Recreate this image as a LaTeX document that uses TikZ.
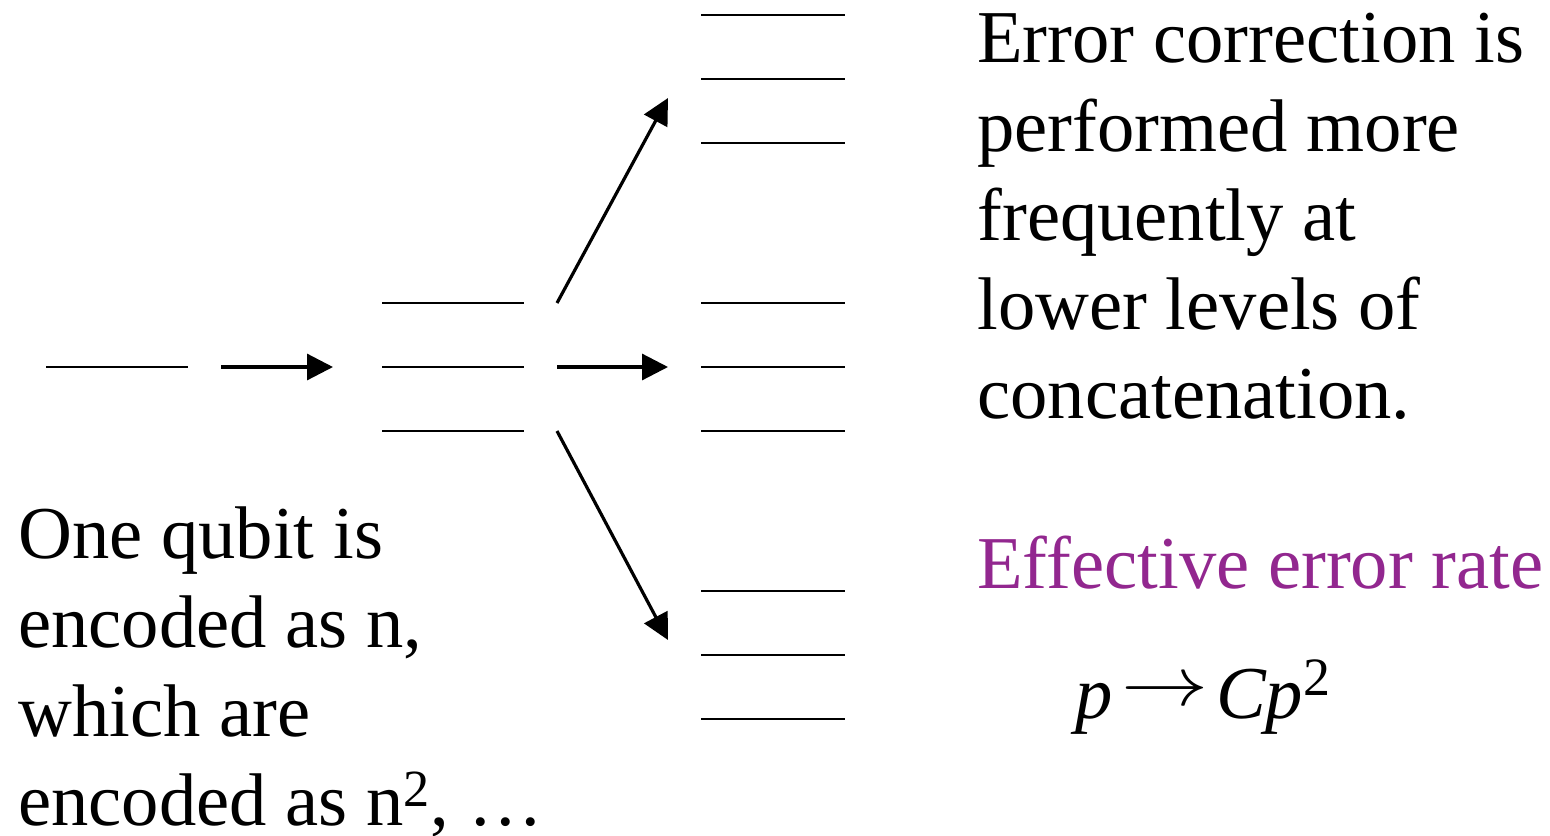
\documentclass[tikz,border=0pt]{standalone}
\usepackage{fontspec}
\usepackage{graphicx}
\setmainfont{Liberation Serif}
\usetikzlibrary{arrows.meta}
\definecolor{effpurple}{HTML}{92278F}
\tikzset{
  level/.style={line width=1pt},
  push/.style={line width=1.6pt,-{Triangle[length=13pt,width=13pt]}},
  txt/.style={inner sep=0pt,anchor=base west,align=left,font=\fontsize{37.3}{44.5}\selectfont}
}
\begin{document}
\begin{tikzpicture}[x=0.5pt,y=-0.5pt]
\useasboundingbox (0,0) rectangle (1550,835);
% single qubit
\draw[level] (46,367) coordinate (s0a) -- (188,367) coordinate (s0b);
% first arrow
\coordinate (a1s) at (221,367);
\coordinate (a1e) at (333,367);
\draw[push] (a1s) -- (a1e);
% middle group
\foreach \y [count=\i] in {303,367,431}{
  \draw[level] (382,\y) coordinate (m\i a) -- (524,\y) coordinate (m\i b);
}
% right groups
\foreach \y [count=\i] in {15,79,143,303,367,431,591,655,719}{
  \draw[level] (701,\y) coordinate (r\i a) -- (845,\y) coordinate (r\i b);
}
% arrows to right
\coordinate (u0) at (557,303);
\coordinate (u1) at (668,98);
\coordinate (c0) at (557,367);
\coordinate (c1) at (668,367);
\coordinate (d0) at (557,431);
\coordinate (d1) at (668,640);
\draw[push] (u0) -- (u1);
\draw[push] (c0) -- (c1);
\draw[push] (d0) -- (d1);
% texts (anchor base = baseline of the last line)
\node[txt] (left) at (18,825) {One qubit is\\encoded as n,\\which are\\encoded as n\textsuperscript{2}, …};
\node[txt] (right) at (977,418) {Error correction is\\performed more\\frequently at\\lower levels of\\concatenation.};
\node[txt,text=effpurple] (eff) at (977,588) {Effective error rate};
\node[txt] (formula) at (1075,718) {\textit{p}\hspace{0.12em}\raisebox{0.17em}{\scalebox{1.75}[1.4]{$\rightarrow$}}\hspace{0.1em}\textit{Cp}\raisebox{0.3em}{\fontsize{27}{27}\selectfont 2}};
\end{tikzpicture}
\end{document}
